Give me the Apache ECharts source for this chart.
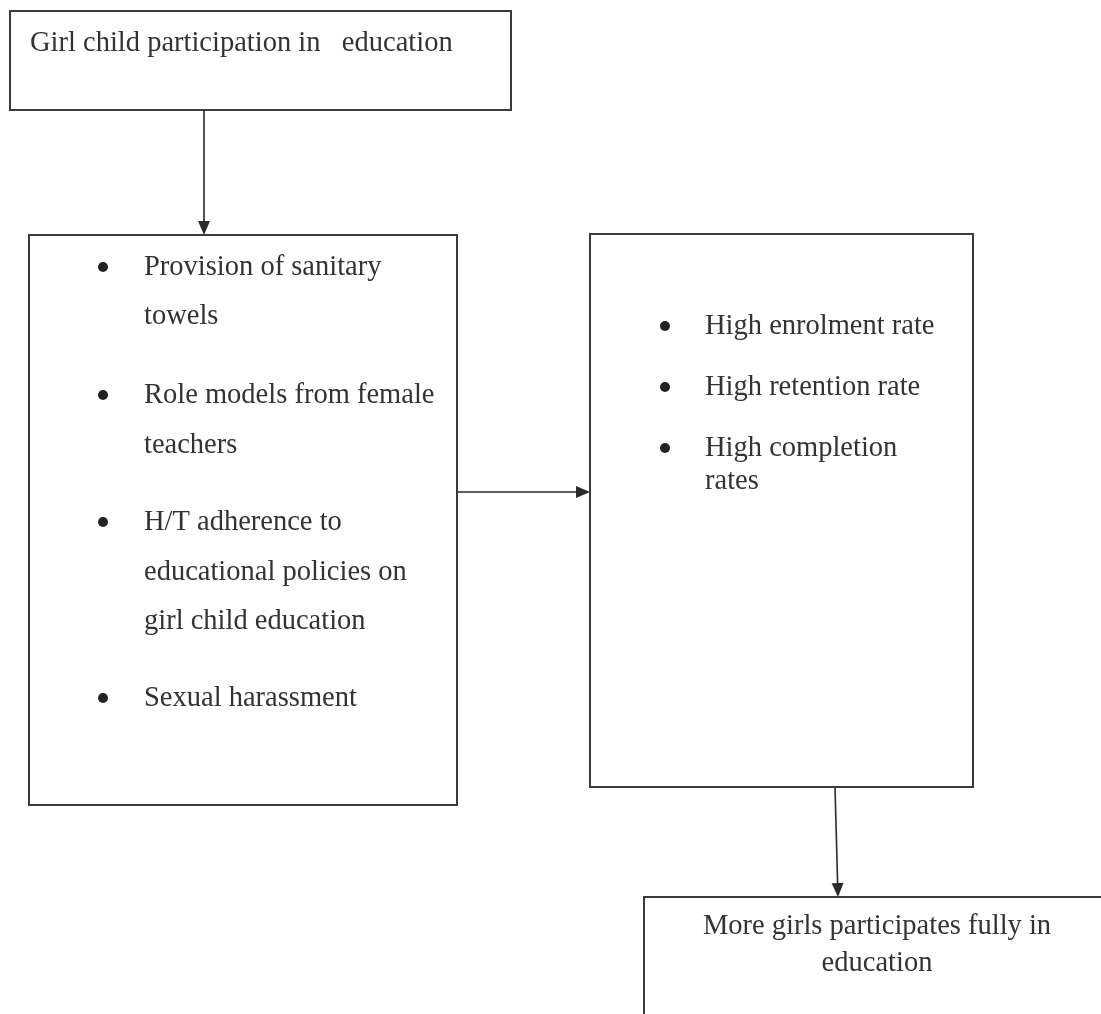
<html>
<head>
<meta charset="utf-8">
<title>Girl child participation</title>
<script src="https://cdn.jsdelivr.net/npm/echarts@6/dist/echarts.min.js"></script>
<style>
  html, body { margin: 0; padding: 0; background: #fff; }
  #chart { width: 1101px; height: 1014px; }
</style>
</head>
<body>
<div id="chart"></div>
<script>
// boxes: [left, top, right, bottom] in page units (y grows downward)
var boxes = [
    [10, 11, 511, 110],
    [29, 235, 457, 805],
    [590, 234, 973, 787],
    [644, 897, 1112, 1024]
];
// arrows: [fromX, fromY, toX, toY]
var arrows = [
    [204, 110, 204, 235],
    [457, 492, 590, 492],
    [835, 787, 838, 897]
];
// bullet dots: [x, y]
var bullets = [
    [103, 267], [103, 395], [103, 522], [103, 698],
    [665, 326], [665, 387], [665, 448]
];
// text lines: [x, baseline y, text, align]
var labels = [
    [30, 50, 'Girl child participation in   education', 'left'],
    [144, 274, 'Provision of sanitary', 'left'],
    [144, 323, 'towels', 'left'],
    [144, 402, 'Role models from female', 'left'],
    [144, 452, 'teachers', 'left'],
    [144, 529, 'H/T adherence to', 'left'],
    [144, 579, 'educational policies on', 'left'],
    [144, 628, 'girl child education', 'left'],
    [144, 705, 'Sexual harassment', 'left'],
    [705, 333, 'High enrolment rate', 'left'],
    [705, 394, 'High retention rate', 'left'],
    [705, 455, 'High completion', 'left'],
    [705, 488, 'rates', 'left'],
    [877, 933, 'More girls participates fully in', 'center'],
    [877, 970, 'education', 'center']
];

var ink = '#333333';
var lineInk = '#3c3c3c';
var font = '28.5px "Liberation Serif", "Times New Roman", serif';

var chart = echarts.init(document.getElementById('chart'));

var option = {
    backgroundColor: '#ffffff',
    animation: false,
    grid: { left: 0, right: 0, top: 0, bottom: 0 },
    xAxis: { type: 'value', min: 0, max: 1101, show: false },
    yAxis: { type: 'value', min: 0, max: 1014, inverse: true, show: false },
    series: [
        {
            type: 'custom',
            name: 'boxes',
            clip: true,
            data: boxes,
            renderItem: function (params, api) {
                var p0 = api.coord([api.value(0), api.value(1)]);
                var p1 = api.coord([api.value(2), api.value(3)]);
                return {
                    type: 'rect',
                    shape: { x: p0[0], y: p0[1], width: p1[0] - p0[0], height: p1[1] - p0[1] },
                    style: { fill: 'none', stroke: lineInk, lineWidth: 2 }
                };
            }
        },
        {
            type: 'custom',
            name: 'arrows',
            data: arrows,
            renderItem: function (params, api) {
                var a = api.coord([api.value(0), api.value(1)]);
                var b = api.coord([api.value(2), api.value(3)]);
                var dx = b[0] - a[0], dy = b[1] - a[1];
                var len = Math.sqrt(dx * dx + dy * dy);
                var ux = dx / len, uy = dy / len;
                var head = 14, half = 6;
                var base = [b[0] - ux * head, b[1] - uy * head];
                return {
                    type: 'group',
                    children: [
                        {
                            type: 'line',
                            shape: { x1: a[0], y1: a[1], x2: base[0], y2: base[1] },
                            style: { stroke: '#2a2a2a', lineWidth: 1.6 }
                        },
                        {
                            type: 'polygon',
                            shape: { points: [
                                [b[0], b[1]],
                                [base[0] - uy * half, base[1] + ux * half],
                                [base[0] + uy * half, base[1] - ux * half]
                            ] },
                            style: { fill: '#2a2a2a' }
                        }
                    ]
                };
            }
        },
        {
            type: 'scatter',
            name: 'bullets',
            data: bullets,
            symbol: 'circle',
            symbolSize: 10,
            itemStyle: { color: '#222222', opacity: 1 },
            silent: true
        },
        {
            type: 'custom',
            name: 'labels',
            data: labels,
            renderItem: function (params, api) {
                var item = labels[params.dataIndex];
                var p = api.coord([item[0], item[1]]);
                return {
                    type: 'text',
                    style: {
                        x: p[0],
                        y: p[1] - 6,
                        text: item[2],
                        font: font,
                        fill: ink,
                        align: item[3],
                        verticalAlign: 'middle'
                    }
                };
            }
        }
    ]
};

chart.setOption(option);
</script>
</body>
</html>
